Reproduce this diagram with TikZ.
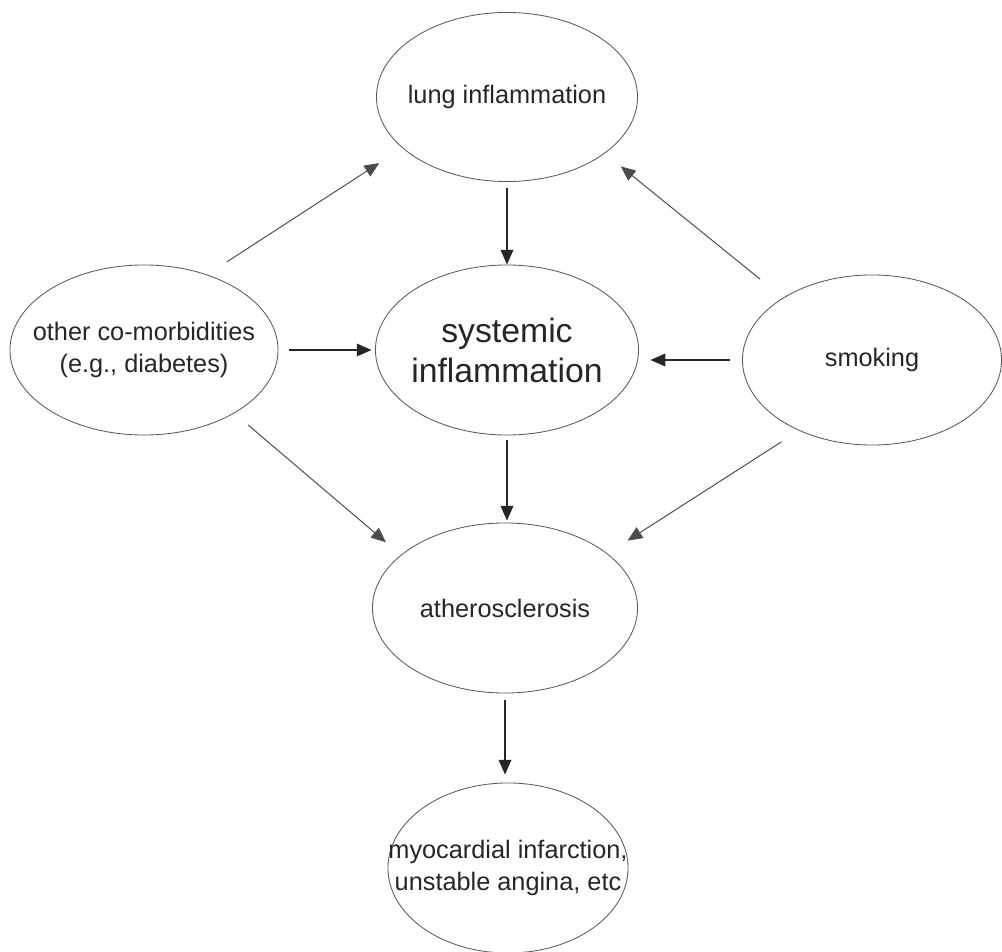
\documentclass[tikz,border=0pt]{standalone}
\usepackage{fontspec}
\setmainfont{Liberation Sans}
\usepackage{tikz}
\usetikzlibrary{shapes.geometric}
\usetikzlibrary{arrows.meta}

\begin{document}
\begin{tikzpicture}[x=0.025cm, y=-0.025cm,
    bub/.style={draw=black!65, line width=0.6pt, ellipse, inner sep=0pt, minimum height=4.25cm},
    txt/.style={text=black!85, align=center, font=\fontsize{18}{22.5}\selectfont},
    bigtxt/.style={text=black!85, align=center, font=\fontsize{24}{28.4}\selectfont},
    arr/.style={-{Triangle[length=10.5pt,width=9pt]}, line width=1pt, draw=black!85},
    darr/.style={arr, line width=0.7pt, draw=black!70}]
    \useasboundingbox (0,0) rectangle (1002,952);

    \node[bub, minimum width=6.525cm, minimum height=4.225cm] (lung) at (507,97) {};
    \node[bub, minimum width=6.575cm] (sys) at (507,350) {};
    \node[bub, minimum width=6.7cm] (other) at (144,350) {};
    \node[bub, minimum width=6.475cm] (smoke) at (872,360) {};
    \node[bub, minimum width=6.625cm] (ather) at (505,608) {};
    \node[bub, minimum width=6.0cm] (mi) at (508,868) {};

    \node[txt] (lung-t) at (lung) {lung inflammation};
    \node[bigtxt] (sys-t) at (sys) {systemic\\inflammation};
    \node[txt] (other-t) at (other) {other co-morbidities\\(e.g., diabetes)};
    \node[txt] (smoke-t) at (smoke) {smoking};
    \node[txt] (ather-t) at (ather) {atherosclerosis};
    \node[txt] (mi-t) at (mi) {myocardial infarction,\\unstable angina, etc};

    \draw[arr, shorten <=4.6pt] (lung.south) -- (sys.north);
    \draw[arr, shorten <=3.5pt, shorten >=1.4pt] (sys.south) -- (sys.south |- ather.north);
    \draw[arr, shorten <=5pt, shorten >=5.7pt] (ather.south) -- (ather.south |- mi.north);
    \draw[arr, shorten <=7.8pt, shorten >=2.5pt] (other.east) -- (sys.west);
    \draw[arr, shorten <=8.9pt, shorten >=8.2pt] (smoke.west) -- (smoke.west -| sys.east);
    \draw[darr, shorten <=16.6pt, shorten >=19.6pt] (other.50) -- (lung.206);
    \draw[darr, shorten <=21pt, shorten >=14.6pt] (smoke.145) -- (lung.330);
    \draw[darr, shorten <=12.8pt, shorten >=13.9pt] (other.325) -- (ather.153);
    \draw[darr, shorten <=14.6pt, shorten >=17pt] (smoke.224) -- (ather.28);
\end{tikzpicture}
\end{document}
